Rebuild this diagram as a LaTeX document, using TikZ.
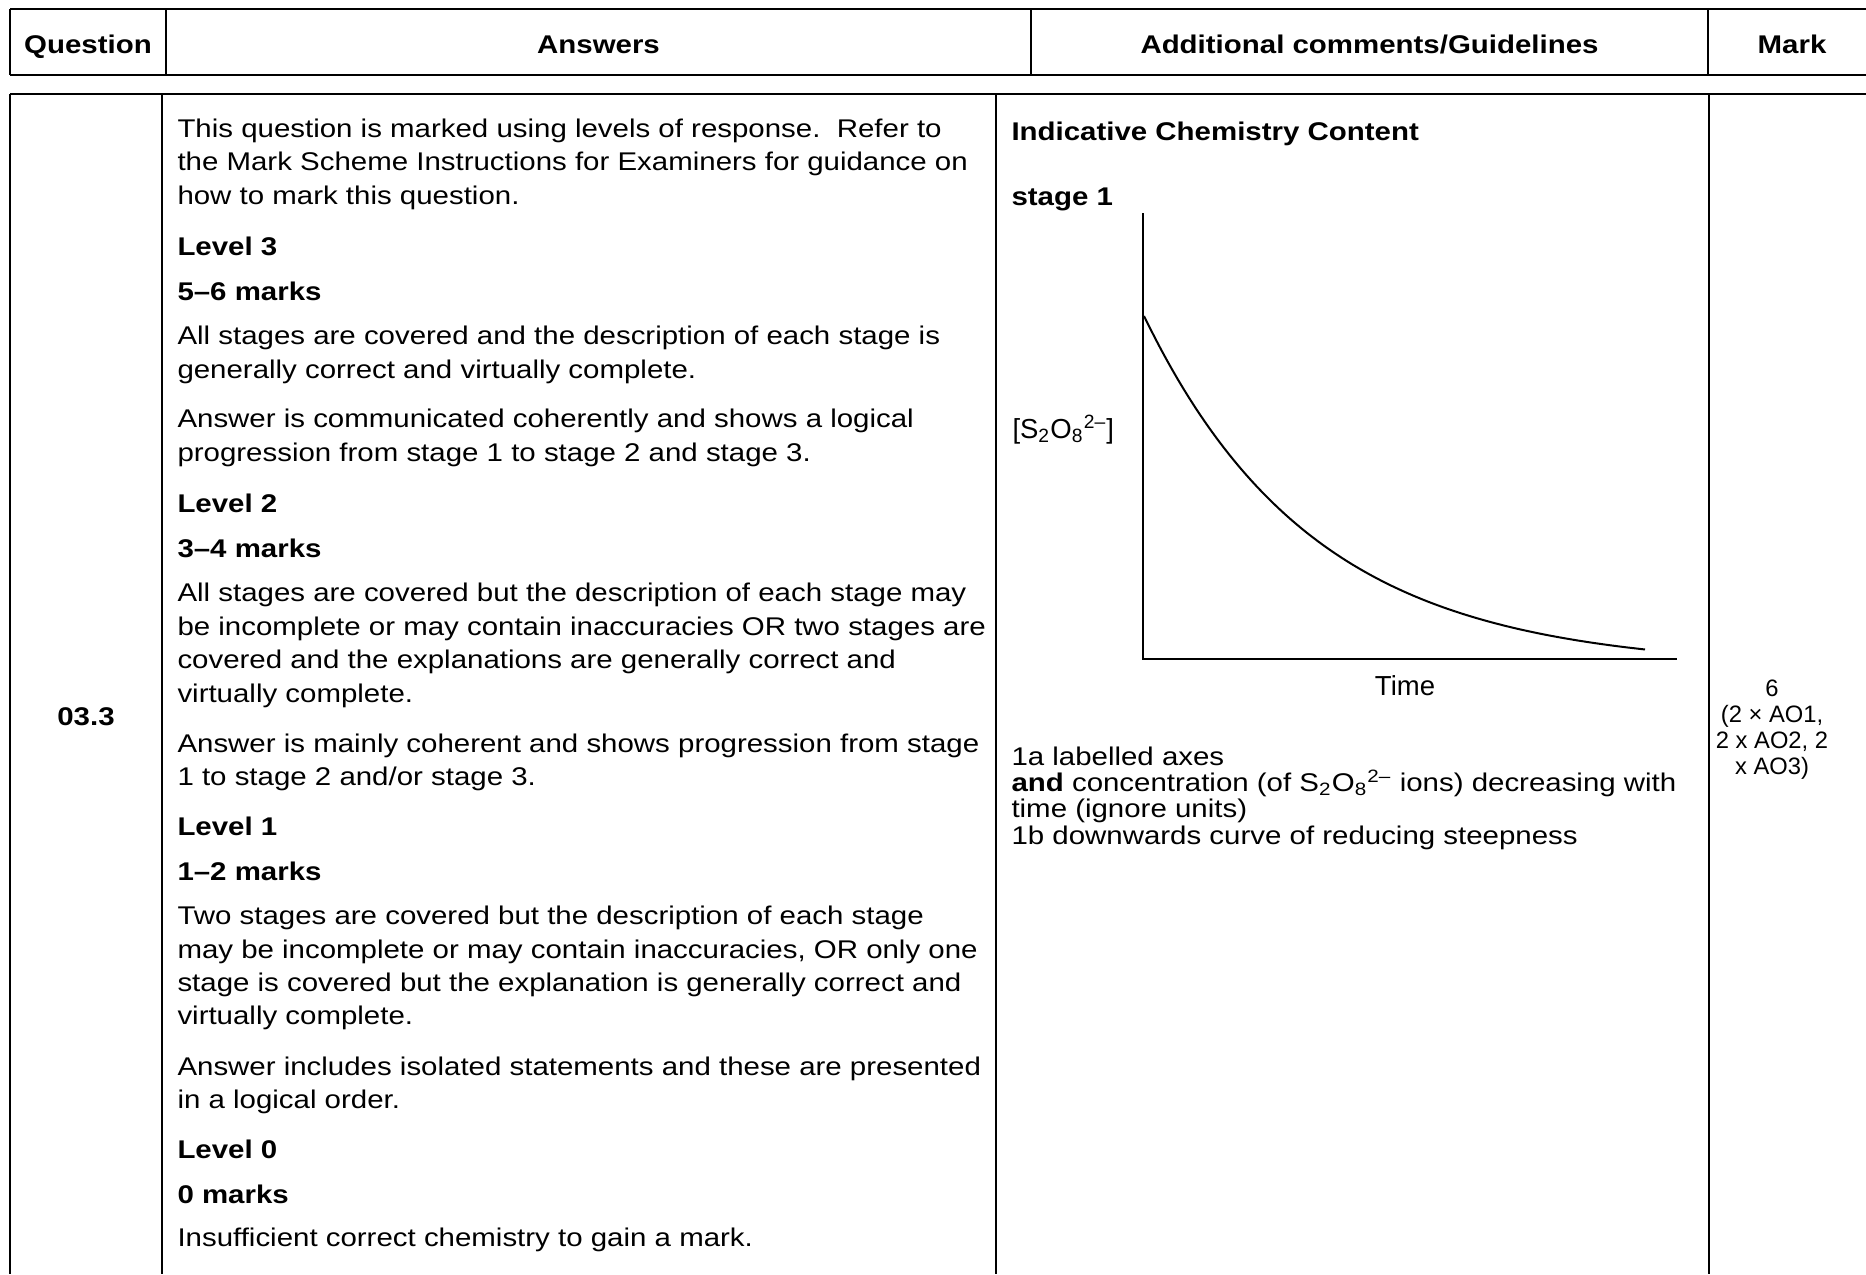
\documentclass[tikz,border=0pt]{standalone}
\usepackage{fontspec}
\setmainfont[FakeStretch=1.15,Ligatures=NoCommon]{Liberation Sans}
\newfontfamily\graphfont[Ligatures=NoCommon]{Liberation Sans}
\begin{document}
\begin{tikzpicture}[x=0.4pt,y=-0.4pt,
  hrule/.style={line width=0.8pt},
  vrule/.style={line width=0.64pt},
  body/.style={anchor=base west,inner sep=0pt,font=\fontsize{10.24}{12}\selectfont},
  bodyb/.style={anchor=base west,inner sep=0pt,font=\fontsize{10.24}{12}\selectfont\bfseries},
  headtxt/.style={anchor=base,inner sep=0pt,font=\fontsize{10.24}{12}\selectfont\bfseries},
  comm/.style={anchor=base west,inner sep=0pt,font=\fontsize{10.24}{12}\selectfont},
  markcol/.style={anchor=base,inner sep=0pt,font=\graphfont\fontsize{9.5}{11}\selectfont},
  glabel/.style={inner sep=0pt,font=\graphfont\fontsize{11}{12}\selectfont},
  axisline/.style={line width=0.8pt},
  curveline/.style={line width=0.8pt}]
\useasboundingbox (0,0) rectangle (1866,1274);
\fill[white] (0,0) rectangle (1866,1274);

% header row
\draw[hrule] (10,9) -- (1866,9);
\draw[hrule] (10,75.3) -- (1866,75.3);
\foreach \xx in {10,166,1031,1708} \draw[vrule] (\xx,9) -- (\xx,75.3);
\node[headtxt] (hq) at (88,53) {Question};
\node[headtxt] (ha) at (598.5,53) {Answers};
\node[headtxt] (hc) at (1369.5,53) {Additional comments/Guidelines};
\node[headtxt] (hm) at (1792,53) {Mark};

% body table
\draw[hrule] (10,94.3) -- (1866,94.3);
\foreach \xx in {10,162,996,1709} \draw[vrule] (\xx,94.3) -- (\xx,1274);

% question number
\node[bodyb,anchor=base] (qn) at (86,725) {03.3};

% answers column
\node[body] (a1) at (177,137) {This question is marked using levels of response.\ \ Refer to};
\node[body] (a2) at (177,170.5) {the Mark Scheme Instructions for Examiners for guidance on};
\node[body] (a3) at (177,204) {how to mark this question.};
\node[bodyb] (l3) at (177,255.5) {Level 3};
\node[bodyb] (m3) at (177,300) {5–6 marks};
\node[body] (a4) at (177,344.5) {All stages are covered and the description of each stage is};
\node[body] (a5) at (177,378) {generally correct and virtually complete.};
\node[body] (a6) at (177,427.7) {Answer is communicated coherently and shows a logical};
\node[body] (a7) at (177,461.5) {progression from stage 1 to stage 2 and stage 3.};
\node[bodyb] (l2) at (177,512.4) {Level 2};
\node[bodyb] (m2) at (177,557.4) {3–4 marks};
\node[body] (a8) at (177,601.8) {All stages are covered but the description of each stage may};
\node[body] (a9) at (177,635.2) {be incomplete or may contain inaccuracies OR two stages are};
\node[body] (a10) at (177,668.6) {covered and the explanations are generally correct and};
\node[body] (a11) at (177,702) {virtually complete.};
\node[body] (a12) at (177,752.2) {Answer is mainly coherent and shows progression from stage};
\node[body] (a13) at (177,785.6) {1 to stage 2 and/or stage 3.};
\node[bodyb] (l1) at (177,835.8) {Level 1};
\node[bodyb] (m1) at (177,880.2) {1–2 marks};
\node[body] (a14) at (177,924.6) {Two stages are covered but the description of each stage};
\node[body] (a15) at (177,958) {may be incomplete or may contain inaccuracies, OR only one};
\node[body] (a16) at (177,991.4) {stage is covered but the explanation is generally correct and};
\node[body] (a17) at (177,1024.8) {virtually complete.};
\node[body] (a18) at (177,1075.1) {Answer includes isolated statements and these are presented};
\node[body] (a19) at (177,1108.5) {in a logical order.};
\node[bodyb] (l0) at (177,1158.7) {Level 0};
\node[bodyb] (m0) at (177,1203.1) {0 marks};
\node[body] (a20) at (177,1246.3) {Insufficient correct chemistry to gain a mark.};

% comments column
\node[bodyb] (ic) at (1011,140) {Indicative Chemistry Content};
\node[bodyb] (s1) at (1011,205) {stage 1};

% graph
\coordinate (ytop) at (1143,213.4);
\coordinate (orig) at (1143,658.7);
\coordinate (xend) at (1677,658.7);
\draw[axisline] (ytop) -- (orig) -- (xend);
\draw[curveline] plot[domain=0:501,samples=90] ({1144+\x},{668-352*exp(-0.00587*\x)});
\node[glabel,anchor=base west] (ylab) at (1012,438) {[S\textsubscript{2}O\textsubscript{8}\textsuperscript{2–}]};
\node[glabel,anchor=base] (xlab) at (1405,695) {Time};

\node[comm] (c1) at (1011,765.5) {1a labelled axes};
\node[comm] (c2) at (1011,791.7) {\textbf{and} concentration (of S\textsubscript{2}O\textsubscript{8}\textsuperscript{2–} ions) decreasing with};
\node[comm] (c3) at (1011,817.9) {time (ignore units)};
\node[comm] (c4) at (1011,844.1) {1b downwards curve of reducing steepness};

% mark column
\node[markcol] (k1) at (1772,696) {6};
\node[markcol] (k2) at (1772,722) {(2 × AO1,};
\node[markcol] (k3) at (1772,748) {2 x AO2, 2};
\node[markcol] (k4) at (1772,774) {x AO3)};
\end{tikzpicture}
\end{document}
